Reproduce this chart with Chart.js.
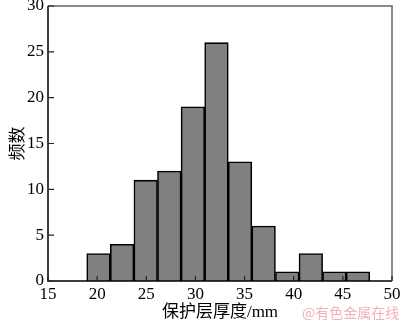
<!DOCTYPE html>
<html>
<head>
<meta charset="utf-8">
<script src="https://cdn.jsdelivr.net/npm/chart.js@4/dist/chart.umd.min.js"></script>
<style>
    html, body { margin: 0; padding: 0; background: #fff; }
    #chart { display: block; }
</style>
</head>
<body>
<canvas id="chart" width="400" height="324"></canvas>
<script>
// histogram bins (mm) and counts
const binStart = 18.94;
const binWidth = 2.4;
const counts = [3, 4, 11, 12, 19, 26, 13, 6, 1, 3, 1, 1];
const xTicks = [15, 20, 25, 30, 35, 40, 45, 50];
const yTicks = [0, 5, 10, 15, 20, 25, 30];

const serif = '"Liberation Serif", "Times New Roman", "Noto Sans CJK SC", serif';

const points = counts.map((c, i) => ({ x: binStart + binWidth * (i + 0.5), y: c }));

// frame and inward tick marks, plus the source mark bottom right
const framePlugin = {
    id: 'frame',
    afterDatasetsDraw(chart) {
        const { ctx, chartArea: a, scales } = chart;
        ctx.save();
        ctx.lineWidth = 1.5;
        ctx.strokeStyle = '#666';
        ctx.beginPath();
        ctx.moveTo(a.left, a.top);
        ctx.lineTo(a.right, a.top);
        ctx.lineTo(a.right, a.bottom);
        ctx.stroke();

        ctx.strokeStyle = '#000';
        ctx.beginPath();
        ctx.moveTo(a.left, a.top);
        ctx.lineTo(a.left, a.bottom);
        ctx.lineTo(a.right, a.bottom);
        ctx.stroke();

        ctx.lineWidth = 1.2;
        ctx.strokeStyle = '#222';
        ctx.beginPath();
        xTicks.forEach(v => {
            const px = scales.x.getPixelForValue(v);
            ctx.moveTo(px, a.bottom);
            ctx.lineTo(px, a.bottom - 5);
        });
        yTicks.forEach(v => {
            const py = scales.y.getPixelForValue(v);
            ctx.moveTo(a.left, py);
            ctx.lineTo(a.left + 6, py);
        });
        ctx.stroke();

        ctx.font = '14px "Noto Sans CJK SC", sans-serif';
        ctx.fillStyle = '#f2b2b2';
        ctx.textAlign = 'left';
        ctx.textBaseline = 'middle';
        ctx.fillText('@有色金属在线', 302, 313);
        ctx.restore();
    }
};

// keep the plot box fixed: no extra room for half-labels at the ends
const noEdgePadding = (scale) => {
    scale.paddingTop = 0;
    scale.paddingBottom = 0;
    scale.paddingLeft = 0;
    scale.paddingRight = 0;
};

const ctx = document.getElementById('chart').getContext('2d');
const chart = new Chart(ctx, {
    type: 'bar',
    data: {
        datasets: [
            {
                data: points,
                backgroundColor: '#808080',
                borderColor: '#000',
                borderWidth: 1.6,
                barPercentage: 1,
                categoryPercentage: 1,
            }
        ]
    },
    options: {
        responsive: false,
        animation: false,
        devicePixelRatio: 1,
        layout: {
            padding: { top: 6, right: 8, left: 0, bottom: 0 }
        },
        plugins: {
            legend: { display: false },
            tooltip: { enabled: false }
        },
        scales: {
            x: {
                type: 'linear',
                offset: false,
                min: 15,
                max: 50,
                afterBuildTicks: (scale) => { scale.ticks = xTicks.map(v => ({ value: v })); },
                afterFit: (scale) => { scale.height = 43; noEdgePadding(scale); },
                grid: { display: false, drawTicks: false },
                border: { display: false },
                ticks: {
                    color: '#000',
                    padding: 3,
                    maxRotation: 0,
                    font: { family: serif, size: 17 }
                },
                title: {
                    display: true,
                    text: '保护层厚度/mm',
                    color: '#000',
                    padding: { top: 0, bottom: 1 },
                    font: { family: serif, size: 17 }
                }
            },
            y: {
                min: 0,
                max: 30,
                afterBuildTicks: (scale) => { scale.ticks = yTicks.map(v => ({ value: v })); },
                afterFit: (scale) => { scale.width = 48; noEdgePadding(scale); },
                grid: { display: false, drawTicks: false },
                border: { display: false },
                ticks: {
                    color: '#000',
                    padding: 4,
                    font: { family: serif, size: 17 }
                },
                title: {
                    display: true,
                    text: '频数',
                    color: '#000',
                    padding: { top: 8, bottom: 0 },
                    font: { family: serif, size: 17 }
                }
            }
        }
    },
    plugins: [framePlugin]
});
</script>
</body>
</html>
